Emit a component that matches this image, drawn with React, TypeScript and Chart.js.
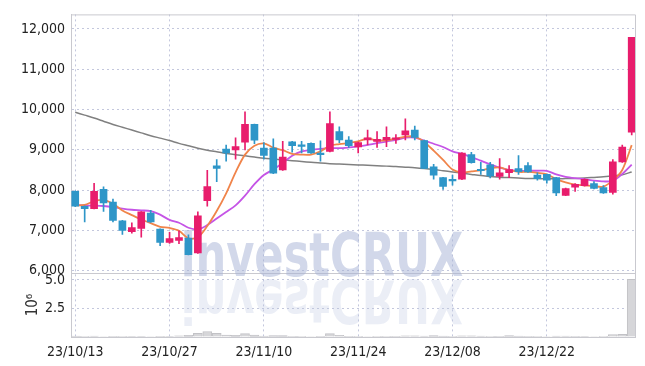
import React, { useEffect, useRef } from 'react';
import { Chart, registerables } from 'chart.js';

Chart.register(...registerables);

const dates = [
  '23/10/13', '23/10/16', '23/10/17', '23/10/18', '23/10/19', '23/10/20',
  '23/10/23', '23/10/24', '23/10/25', '23/10/26', '23/10/27',
  '23/10/30', '23/10/31', '23/11/01', '23/11/02', '23/11/03',
  '23/11/06', '23/11/07', '23/11/08', '23/11/09', '23/11/10',
  '23/11/13', '23/11/14', '23/11/15', '23/11/16', '23/11/17',
  '23/11/20', '23/11/21', '23/11/22', '23/11/23', '23/11/24',
  '23/11/27', '23/11/28', '23/11/29', '23/11/30', '23/12/01',
  '23/12/04', '23/12/05', '23/12/06', '23/12/07', '23/12/08',
  '23/12/11', '23/12/12', '23/12/13', '23/12/14', '23/12/15',
  '23/12/18', '23/12/19', '23/12/20', '23/12/21', '23/12/22',
  '23/12/26', '23/12/27', '23/12/28',
  '24/01/02', '24/01/03', '24/01/04', '24/01/05', '24/01/08', '24/01/09',
];

const opens = [
  7970, 7600, 7540, 8020, 7700, 7240, 6970, 7050, 7430, 7030,
  6700, 6750, 6810, 6440, 7740, 8600, 9020, 9000, 9190, 9630,
  9040, 9040, 8500, 9200, 9110, 9160, 8920, 8960, 9450, 9240,
  9070, 9245, 9205, 9245, 9260, 9370, 9490, 9230, 8580, 8310,
  8250, 8270, 8880, 8510, 8630, 8340, 8430, 8535, 8610, 8370,
  8390, 8310, 7870, 8075, 8110, 8160, 8065, 7945, 8700, 9440,
];
const highs = [
  7980, 7610, 8170, 8080, 7780, 7250, 7190, 7470, 7500, 7040,
  6950, 6990, 6890, 7460, 8490, 8760, 9120, 9300, 9940, 9640,
  9180, 9270, 9210, 9210, 9210, 9170, 9220, 9940, 9570, 9330,
  9190, 9490, 9450, 9570, 9380, 9770, 9590, 9240, 8640, 8320,
  8370, 8930, 8940, 8690, 8690, 8780, 8610, 8855, 8680, 8430,
  8400, 8320, 8050, 8160, 8280, 8210, 8110, 8760, 9120, 11790,
];
const lows = [
  7590, 7210, 7530, 7470, 7210, 6900, 6930, 6830, 7200, 6620,
  6680, 6670, 6390, 6430, 7600, 8210, 8720, 8770, 9000, 9150,
  8770, 8410, 8490, 8940, 8920, 8910, 8720, 8950, 9180, 9060,
  8920, 9120, 9060, 9080, 9160, 9245, 9245, 8530, 8270, 8020,
  8120, 8260, 8670, 8390, 8300, 8270, 8310, 8390, 8440, 8245,
  8170, 7860, 7860, 7970, 8100, 8030, 7920, 7900, 8690, 9370,
];
const closes = [
  7600, 7540, 7970, 7680, 7250, 7000, 7070, 7460, 7210, 6700,
  6800, 6820, 6400, 7360, 8090, 8540, 8920, 9080, 9630, 9240,
  8860, 8420, 8820, 9100, 9085, 8920, 8880, 9650, 9245, 9100,
  9180, 9300, 9260, 9310, 9285, 9470, 9310, 8540, 8370, 8090,
  8230, 8920, 8680, 8480, 8350, 8430, 8510, 8455, 8450, 8285,
  8245, 7930, 8040, 8145, 8270, 8040, 7930, 8700, 9070, 11790,
];

const ma5 = [
  7620, 7634, 7724, 7756, 7660, 7495, 7380, 7270, 7180, 7090,
  7060, 6990, 6800, 6830, 7110, 7480, 7920, 8440, 8880, 9100,
  9160, 9055, 8990, 8900, 8880, 8880, 8961, 9100, 9140, 9170,
  9208, 9280, 9230, 9237, 9275, 9326, 9327, 9195, 8980, 8750,
  8510, 8440, 8465, 8490, 8543, 8563, 8493, 8452, 8450, 8427,
  8392, 8272, 8189, 8138, 8118, 8096, 8088, 8240, 8500, 9115,
];
const ma20 = [
  7634, 7620, 7615, 7605, 7580, 7540, 7512, 7497, 7480, 7390,
  7260, 7190, 7066, 7024, 7132, 7293, 7456, 7620, 7863, 8146,
  8375, 8512, 8676, 8850, 8961, 9000, 9024, 9041, 9041, 9059,
  9083, 9122, 9163, 9205, 9244, 9300, 9300, 9230, 9150, 9070,
  8960, 8900, 8820, 8730, 8640, 8560, 8500, 8480, 8480, 8480,
  8480, 8390, 8330, 8295, 8270, 8235, 8215, 8230, 8400, 8630,
];
const ma120 = [
  9930, 9860, 9790, 9710, 9630, 9560, 9490, 9420, 9350, 9290,
  9230, 9160, 9100, 9040, 8990, 8950, 8910, 8880, 8850, 8820,
  8790, 8770, 8750, 8730, 8710, 8690, 8670, 8655, 8645, 8635,
  8625, 8615, 8605, 8595, 8585, 8570, 8555, 8535, 8510, 8480,
  8450, 8420, 8390, 8360, 8340, 8320, 8310, 8300, 8290, 8285,
  8280, 8280, 8285, 8290, 8300, 8315, 8330, 8350, 8380, 8450,
];

// volume in millions of shares
const volumes = [
  0.08, 0.05, 0.07, 0.04, 0.06, 0.05, 0.03, 0.03, 0.04, 0.06,
  0.03, 0.10, 0.15, 0.33, 0.48, 0.33, 0.17, 0.15, 0.30, 0.16,
  0.09, 0.12, 0.13, 0.06, 0.05, 0.04, 0.06, 0.30, 0.14, 0.06,
  0.05, 0.04, 0.05, 0.05, 0.06, 0.10, 0.11, 0.07, 0.12, 0.08,
  0.05, 0.10, 0.11, 0.07, 0.05, 0.06, 0.12, 0.09, 0.06, 0.05,
  0.04, 0.07, 0.07, 0.06, 0.03, 0.04, 0.05, 0.22, 0.24, 5.05,
];

const xTickIndexes = [0, 10, 20, 30, 40, 50];
const priceTicks = [6000, 7000, 8000, 9000, 10000, 11000, 12000];
const volumeTicks = [0, 2.5, 5.0];

const RED = '#e81d6c';
const BLUE = '#2e96c8';
const GRID = 'rgba(175,180,210,0.75)';
const FRAME = '#c9c9cf';
const FONT_FAMILY = '"DejaVu Sans Condensed", "DejaVu Sans", sans-serif';

const watermarkPlugin = {
  id: 'watermark',
  beforeDatasetsDraw(chart: any) {
    const { ctx, chartArea } = chart;
    const yMain = chart.scales.y;
    ctx.save();
    ctx.beginPath();
    ctx.rect(chartArea.left, chartArea.top, chartArea.right - chartArea.left, chartArea.bottom - chartArea.top);
    ctx.clip();
    const text = 'investCRUX';
    const cx = 322;
    const base = yMain.bottom + 3;
    const sx = 0.8;
    ctx.font = 'bold 60px ' + FONT_FAMILY;
    ctx.textAlign = 'center';
    ctx.textBaseline = 'alphabetic';
    ctx.save();
    ctx.translate(cx, base);
    ctx.scale(sx, 1);
    ctx.fillStyle = 'rgba(165,177,214,0.5)';
    ctx.fillText(text, 0, 0);
    ctx.restore();
    ctx.save();
    ctx.translate(cx, base + 4);
    ctx.scale(sx, -1);
    ctx.fillStyle = 'rgba(190,198,225,0.3)';
    ctx.fillText(text, 0, 0);
    ctx.restore();
    ctx.restore();
  },
};

const framePlugin = {
  id: 'frame',
  beforeDatasetsDraw(chart: any) {
    const { ctx, chartArea } = chart;
    const yMain = chart.scales.y;
    ctx.save();
    ctx.strokeStyle = FRAME;
    ctx.lineWidth = 1;
    ctx.beginPath();
    ctx.moveTo(chartArea.left, chartArea.top + 0.5);
    ctx.lineTo(chartArea.right + 0.5, chartArea.top + 0.5);
    ctx.lineTo(chartArea.right + 0.5, chartArea.bottom);
    ctx.moveTo(chartArea.left, Math.round(yMain.bottom) + 0.5);
    ctx.lineTo(chartArea.right, Math.round(yMain.bottom) + 0.5);
    ctx.stroke();
    ctx.restore();
  },
};

export default function App() {
  const canvasRef = useRef<HTMLCanvasElement | null>(null);

  useEffect(() => {
    document.body.style.margin = '0';
    const canvas = canvasRef.current;
    if (!canvas) return;
    const idx = closes.map((_, i) => i);
    const candleColors = idx.map((i) => (closes[i] >= opens[i] ? RED : BLUE));
    const tickFont = { family: FONT_FAMILY, size: 14 };

    const chart = new Chart(canvas, {
      type: 'bar',
      data: {
        datasets: [
          {
            type: 'bar',
            label: 'body',
            data: idx.map((i) => ({ x: i, y: [opens[i], closes[i]] })) as any,
            backgroundColor: candleColors,
            borderWidth: 0,
            barThickness: 7,
            minBarLength: 1.5,
            grouped: false,
            yAxisID: 'y',
            order: 0,
          } as any,
          {
            type: 'bar',
            label: 'wick',
            data: idx.map((i) => ({ x: i, y: [lows[i], highs[i]] })) as any,
            backgroundColor: candleColors,
            borderWidth: 0,
            barThickness: 1,
            grouped: false,
            yAxisID: 'y',
            order: 1,
          } as any,
          {
            type: 'line',
            label: 'MA5',
            data: idx.map((i) => ({ x: i, y: ma5[i] })),
            borderColor: '#f0844a',
            borderWidth: 1.8,
            pointRadius: 0,
            tension: 0.3,
            yAxisID: 'y',
            order: 2,
          } as any,
          {
            type: 'line',
            label: 'MA20',
            data: idx.map((i) => ({ x: i, y: ma20[i] })),
            borderColor: '#c554e6',
            borderWidth: 1.8,
            pointRadius: 0,
            tension: 0.3,
            yAxisID: 'y',
            order: 3,
          } as any,
          {
            type: 'line',
            label: 'MA120',
            data: idx.map((i) => ({ x: i, y: ma120[i] })),
            borderColor: '#808080',
            borderWidth: 1.5,
            pointRadius: 0,
            tension: 0.3,
            yAxisID: 'y',
            order: 4,
          } as any,
          {
            type: 'bar',
            label: 'Volume',
            data: idx.map((i) => ({ x: i, y: volumes[i] })),
            backgroundColor: '#d6d6d9',
            borderColor: '#c2c2c6',
            borderWidth: 1,
            barThickness: 9,
            grouped: false,
            yAxisID: 'yv',
            order: 5,
          } as any,
        ],
      },
      options: {
        responsive: false,
        maintainAspectRatio: false,
        animation: false,
        layout: { padding: { top: 9, right: 10, bottom: 0, left: 0 } },
        plugins: { legend: { display: false }, tooltip: { enabled: false } },
        scales: {
          x: {
            type: 'linear',
            min: -0.45,
            max: 59.35,
            offset: false,
            afterBuildTicks: (s: any) => {
              s.ticks = xTickIndexes.map((v) => ({ value: v }));
            },
            afterFit: (s: any) => {
              s.height = 29;
            },
            ticks: {
              callback: (v: any) => dates[v as number] ?? '',
              font: tickFont,
              color: '#222',
              padding: 7,
              maxRotation: 0,
              autoSkip: false,
            },
            grid: { color: GRID, drawTicks: false, offset: false },
            border: { display: true, color: FRAME, dash: [2, 3] },
          },
          yv: {
            type: 'linear',
            position: 'left',
            stack: 'panes',
            stackWeight: 1,
            min: 0,
            max: 5.6,
            afterBuildTicks: (s: any) => {
              s.ticks = volumeTicks.map((v) => ({ value: v }));
            },
            afterFit: (s: any) => {
              s.width = 71;
            },
            ticks: {
              callback: (v: any) => (v === 0 ? '' : Number(v).toFixed(1)),
              font: tickFont,
              color: '#222',
              padding: 6,
              autoSkip: false,
            },
            grid: { color: GRID, drawTicks: false },
            border: { display: true, color: FRAME, dash: [2, 3] },
            title: {
              display: true,
              text: '10⁶',
              font: { family: FONT_FAMILY, size: 15 },
              color: '#333',
              padding: { top: 24, bottom: 0 },
            },
          },
          y: {
            type: 'linear',
            position: 'left',
            stack: 'panes',
            stackWeight: 4.05,
            min: 5940,
            max: 12360,
            afterBuildTicks: (s: any) => {
              s.ticks = priceTicks.map((v) => ({ value: v }));
            },
            afterFit: (s: any) => {
              s.width = 71;
            },
            ticks: {
              callback: (v: any) => Number(v).toLocaleString('en-US'),
              font: tickFont,
              color: '#222',
              padding: 6,
              autoSkip: false,
            },
            grid: { color: GRID, drawTicks: false },
            border: { display: true, color: FRAME, dash: [2, 3] },
          },
        },
      } as any,
      plugins: [framePlugin, watermarkPlugin],
    });
    return () => chart.destroy();
  }, []);

  return (
    <div style={{ position: 'absolute', left: 0, top: 0, width: 645, height: 366, background: '#fff' }}>
      <canvas ref={canvasRef} width={645} height={366} style={{ width: 645, height: 366, display: 'block' }} />
    </div>
  );
}
